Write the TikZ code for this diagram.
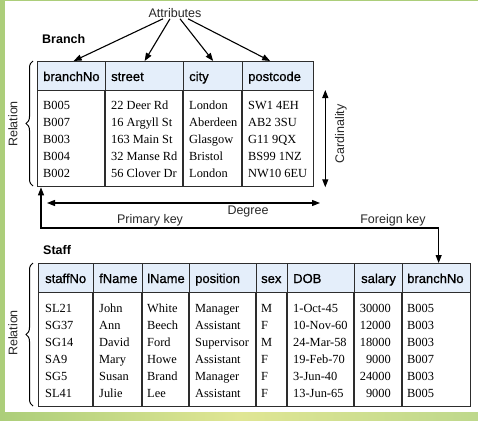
\documentclass[tikz,border=0pt]{standalone}
\usepackage{fontspec}
\setmainfont{Liberation Serif}
\setsansfont{Liberation Sans}
\newfontfamily\hdrfont[FakeBold=0.8]{Liberation Sans}
\usetikzlibrary{arrows.meta,decorations.pathreplacing,calc}
\definecolor{hdr}{RGB}{228,238,250}
\definecolor{gridc}{RGB}{45,45,45}
\definecolor{lbl}{RGB}{40,40,40}
\definecolor{grnA}{RGB}{172,206,122}
\definecolor{grnB}{RGB}{224,230,148}
\definecolor{grnC}{RGB}{190,216,140}
\begin{document}
\begin{tikzpicture}[x=1pt,y=-1pt,
  hcell/.style={draw=gridc,line width=1.3pt,fill=hdr,minimum height=29pt,inner sep=0pt,anchor=north west},
  bodybox/.style={draw=gridc,line width=1.3pt,inner sep=0pt,anchor=north west},
  htxt/.style={font=\hdrfont\fontsize{13}{15}\selectfont,anchor=base west,inner sep=0pt,text=black},
  dtxt/.style={font=\fontsize{12.4}{17}\selectfont,anchor=base west,inner sep=0pt,text=black},
  dtxtr/.style={dtxt,anchor=base east},
  lab/.style={font=\sffamily\fontsize{12.5}{14}\selectfont,text=lbl,inner sep=1pt},
  title/.style={font=\sffamily\bfseries\fontsize{12.5}{14}\selectfont,anchor=base west,inner sep=0pt},
  tip/.style={-{Triangle[length=8pt,width=6pt]},line width=1.1pt},
  tips/.style={{Triangle[length=8pt,width=6pt]}-{Triangle[length=8pt,width=6pt]},line width=1.1pt},
  bracest/.style={decorate,decoration={brace,amplitude=7pt},line width=1pt}
]
% background frame
\useasboundingbox (0,0) rectangle (478,420);
\fill[grnA] (0,0) rectangle (478,420);
\shade[left color=grnA,right color=grnC,middle color=grnB] (0,412) rectangle (478,420);
\fill[white] (5,1) rectangle (478,412);

% ---------------- Branch table ----------------
\node[title] (branchT) at (42,44) {Branch};
\node[hcell,minimum width=68pt] (bh1) at (37,61) {};
\node[hcell,minimum width=78pt] (bh2) at (105,61) {};
\node[hcell,minimum width=59pt] (bh3) at (183,61) {};
\node[hcell,minimum width=71pt] (bh4) at (242,61) {};
\node[bodybox,minimum width=276pt,minimum height=96pt] (bbody) at (37,90) {};
\foreach \x in {105,183,242} \draw[gridc,line width=1.3pt] (\x,90) -- (\x,186);

\node[htxt] (bt1) at (43,81) {branchNo};
\node[htxt] (bt2) at (111,81) {street};
\node[htxt] (bt3) at (189,81) {city};
\node[htxt] (bt4) at (248,81) {postcode};

\foreach \r/\a/\b/\c/\d in {0/B005/22 Deer Rd/London/SW1 4EH,
                             1/B007/16 Argyll St/Aberdeen/AB2 3SU,
                             2/B003/163 Main St/Glasgow/G11 9QX,
                             3/B004/32 Manse Rd/Bristol/BS99 1NZ,
                             4/B002/56 Clover Dr/London/NW10 6EU}{
  \node[dtxt] (br\r a) at (43,109+17*\r) {\a};
  \node[dtxt] (br\r b) at (111,109+17*\r) {\b};
  \node[dtxt] (br\r c) at (189,109+17*\r) {\c};
  \node[dtxt] (br\r d) at (248,109+17*\r) {\d};
}

% Attributes
\node[lab] (attr) at (175,13) {Attributes};
\draw[tip] ([xshift=-12pt]attr.south) -- ([xshift=2pt]bh1.north);
\draw[tip] ([xshift=-5pt]attr.south) -- (bh2.north);
\draw[tip] ([xshift=5pt]attr.south) -- (bh3.north);
\draw[tip] ([xshift=13pt]attr.south) -- ([xshift=-8pt]bh4.north);

% Relation brace (Branch)
\draw[bracest] (33,186) -- (33,61);
\node[lab,rotate=90] (rel1) at (13,124) {Relation};

% Cardinality
\draw[tips] ([xshift=11pt]bbody.north east) -- ([xshift=11pt]bbody.south east);
\node[lab,rotate=90] (card) at (341,134) {Cardinality};

% Degree
\coordinate (degL) at (47,203);
\coordinate (degR) at (320,203);
\draw[tips] (degL) -- (degR);
\node[lab] (deg) at (248,211) {Degree};

% Keys
\node[lab] (pkey) at (150,220) {Primary key};
\node[lab] (fkey) at (393,220) {Foreign key};

% ---------------- Staff table ----------------
\node[title] (staffT) at (43,254) {Staff};
\node[hcell,minimum width=55pt] (sh1) at (38,263) {};
\node[hcell,minimum width=49pt] (sh2) at (93,263) {};
\node[hcell,minimum width=47pt] (sh3) at (142,263) {};
\node[hcell,minimum width=67pt] (sh4) at (189,263) {};
\node[hcell,minimum width=31pt] (sh5) at (256,263) {};
\node[hcell,minimum width=67pt] (sh6) at (287,263) {};
\node[hcell,minimum width=48pt] (sh7) at (354,263) {};
\node[hcell,minimum width=68pt] (sh8) at (402,263) {};
\node[bodybox,minimum width=432pt,minimum height=114pt] (sbody) at (38,292) {};
\foreach \x in {93,142,189,256,287,354,402} \draw[gridc,line width=1.3pt] (\x,292) -- (\x,406);

\node[htxt] (st1) at (45,283) {staffNo};
\node[htxt] (st2) at (99,283) {fName};
\node[htxt] (st3) at (147,283) {lName};
\node[htxt] (st4) at (195,283) {position};
\node[htxt] (st5) at (261,283) {sex};
\node[htxt] (st6) at (293,283) {DOB};
\node[htxt] (st7) at (361,283) {salary};
\node[htxt] (st8) at (407,283) {branchNo};

\foreach \r/\a/\b/\c/\d/\e/\f/\g/\h in {
   0/SL21/John/White/Manager/M/1-Oct-45/30000/B005,
   1/SG37/Ann/Beech/Assistant/F/10-Nov-60/12000/B003,
   2/SG14/David/Ford/Supervisor/M/24-Mar-58/18000/B003,
   3/SA9/Mary/Howe/Assistant/F/19-Feb-70/9000/B007,
   4/SG5/Susan/Brand/Manager/F/3-Jun-40/24000/B003,
   5/SL41/Julie/Lee/Assistant/F/13-Jun-65/9000/B005}{
  \node[dtxt] (sr\r a) at (45,312+17*\r) {\a};
  \node[dtxt] (sr\r b) at (99,312+17*\r) {\b};
  \node[dtxt] (sr\r c) at (147,312+17*\r) {\c};
  \node[dtxt] (sr\r d) at (195,312+17*\r) {\d};
  \node[dtxt] (sr\r e) at (261,312+17*\r) {\e};
  \node[dtxt] (sr\r f) at (293,312+17*\r) {\f};
  \node[dtxtr] (sr\r g) at (391,312+17*\r) {\g};
  \node[dtxt] (sr\r h) at (407,312+17*\r) {\h};
}

% Relation brace (Staff)
\draw[bracest] (33,406) -- (33,263);
\node[lab,rotate=90] (rel2) at (13,333) {Relation};

% Primary key / foreign key connector
\coordinate (pkcorner) at (41,228);
\draw[tips] ([xshift=4pt]bbody.south west) -- (pkcorner) -| ([xshift=2pt]sh8.north);
\end{tikzpicture}
\end{document}
